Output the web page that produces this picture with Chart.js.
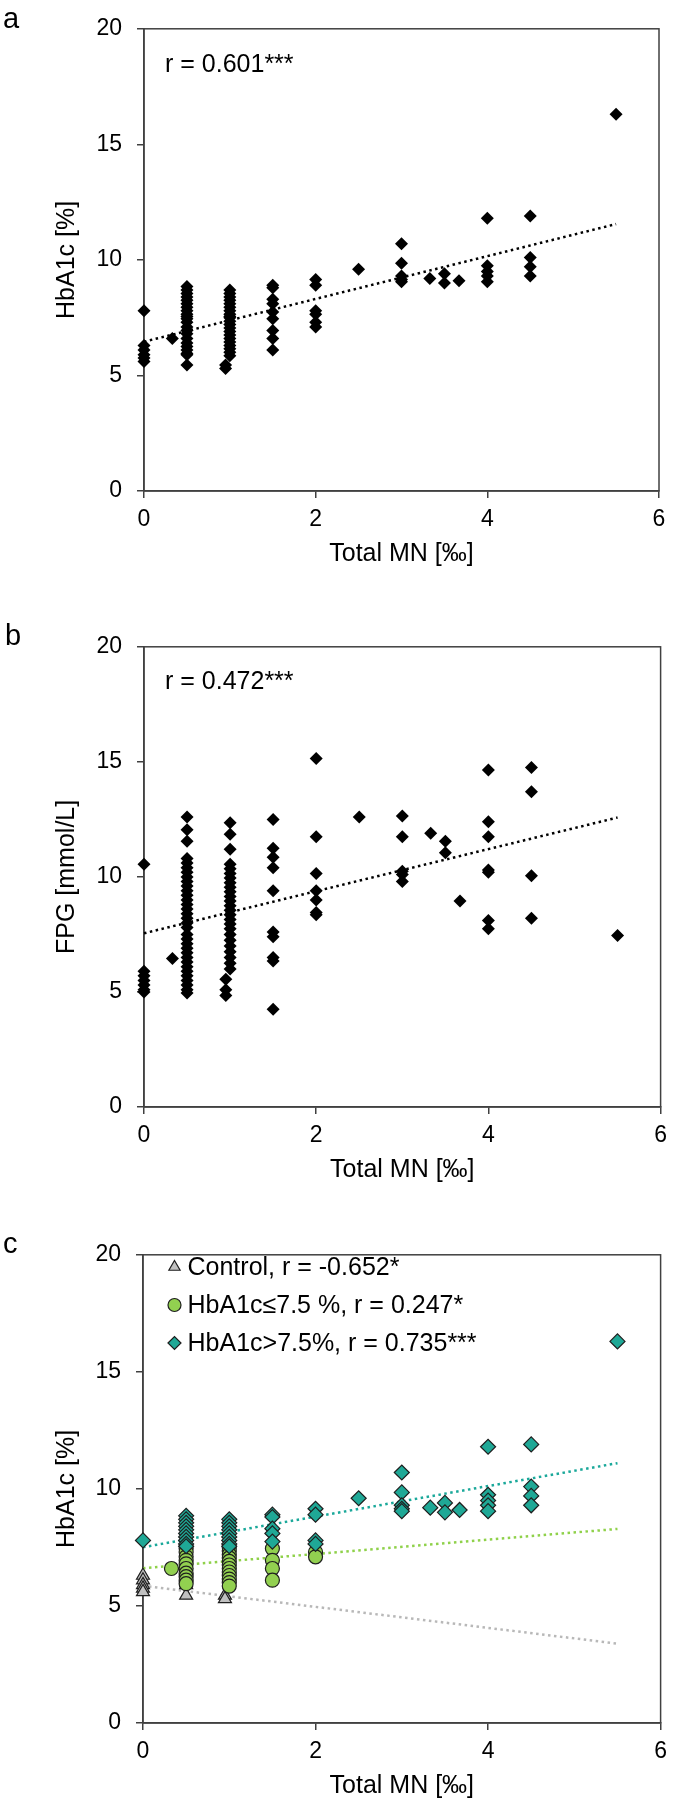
<!DOCTYPE html>
<html>
<head>
<meta charset="utf-8">
<script src="https://cdn.jsdelivr.net/npm/chart.js@4.4.1/dist/chart.umd.min.js"></script>
<style>
  body { margin: 0; background: #fff; }
  .panel { position: absolute; left: 0; width: 675px; }
</style>
</head>
<body>
<div class="panel" style="top:0"><canvas id="chartA" width="675" height="618"></canvas></div>
<div class="panel" style="top:618px"><canvas id="chartB" width="675" height="608"></canvas></div>
<div class="panel" style="top:1226px"><canvas id="chartC" width="675" height="581"></canvas></div>
<script>
/* ===========================================
   Total MN vs HbA1c / FPG scatter panels
   =========================================== */

// ========= Data =========
const mnTicks = [0, 2, 4, 6];
const valueTicks = [0, 5, 10, 15, 20];

// [total MN ‰, HbA1c %] grouped as in panel c
const hbaControl = [[0, 6.3], [0, 6.1], [0, 5.9], [0, 5.75], [0, 5.6], [0.5, 5.9], [0.5, 5.45], [0.95, 5.45], [0.95, 5.3]];
const hbaLow = [[0.33, 6.6], [0.5, 7.45], [0.5, 7.3], [0.5, 7.1], [0.5, 6.95], [0.5, 6.8], [0.5, 6.6], [0.5, 6.4], [0.5, 6.25],
  [0.5, 6.1], [0.5, 5.95], [1, 7.5], [1, 7.35], [1, 7.2], [1, 7.05], [1, 6.9], [1, 6.75], [1, 6.6], [1, 6.45], [1, 6.3],
  [1, 6.15], [1, 6.0], [1, 5.85], [1.5, 7.45], [1.5, 6.95], [1.5, 6.6], [1.5, 6.1], [2, 7.3], [2, 7.1]];
const hbaHigh = [[0, 7.8], [0.5, 8.85], [0.5, 8.7], [0.5, 8.55], [0.5, 8.4], [0.5, 8.25], [0.5, 8.1], [0.5, 7.95], [0.5, 7.8],
  [0.5, 7.65], [0.5, 7.55], [1, 8.7], [1, 8.55], [1, 8.4], [1, 8.25], [1, 8.1], [1, 7.95], [1, 7.8], [1, 7.65], [1, 7.55],
  [1.5, 8.9], [1.5, 8.8], [1.5, 8.3], [1.5, 8.1], [1.5, 7.75], [2, 9.15], [2, 8.9], [2, 7.8], [2, 7.65], [2.5, 9.6],
  [3, 10.7], [3, 9.85], [3, 9.3], [3, 9.15], [3, 9.05], [3.33, 9.2], [3.5, 9.4], [3.5, 9.0], [3.67, 9.1],
  [4, 11.8], [4, 9.75], [4, 9.5], [4, 9.3], [4, 9.05], [4.5, 11.9], [4.5, 10.1], [4.5, 9.7], [4.5, 9.3], [5.5, 16.3]];

// [total MN ‰, FPG mmol/L]
const fpgPoints = [[0, 10.55], [0, 5.9], [0, 5.7], [0, 5.5], [0, 5.3], [0, 5.1], [0, 5.0], [0.33, 6.45],
  [0.5, 12.6], [0.5, 12.05], [0.5, 11.55], [0.5, 10.8], [0.5, 10.6], [0.5, 10.4], [0.5, 10.2], [0.5, 10.0], [0.5, 9.8],
  [0.5, 9.6], [0.5, 9.4], [0.5, 9.2], [0.5, 9.0], [0.5, 8.8], [0.5, 8.6], [0.5, 8.4], [0.5, 8.2], [0.5, 8.0], [0.5, 7.8],
  [0.5, 7.5], [0.5, 7.3], [0.5, 7.1], [0.5, 6.9], [0.5, 6.7], [0.5, 6.5], [0.5, 6.3], [0.5, 6.1], [0.5, 5.9], [0.5, 5.7],
  [0.5, 5.5], [0.5, 5.3], [0.5, 5.1], [0.5, 4.95],
  [1, 12.35], [1, 11.85], [1, 11.2], [1, 10.55], [1, 10.35], [1, 10.15], [1, 9.95], [1, 9.75], [1, 9.55], [1, 9.35],
  [1, 9.15], [1, 8.95], [1, 8.75], [1, 8.55], [1, 8.35], [1, 8.15], [1, 7.95], [1, 7.75], [1, 7.5], [1, 7.25], [1, 7.0],
  [1, 6.75], [1, 6.5], [1, 6.25], [1, 6.0], [0.95, 5.55], [0.95, 5.1], [0.95, 4.85],
  [1.5, 12.5], [1.5, 11.25], [1.5, 10.85], [1.5, 10.4], [1.5, 9.4], [1.5, 7.6], [1.5, 7.4], [1.5, 6.5], [1.5, 6.35], [1.5, 4.25],
  [2, 15.15], [2, 11.75], [2, 10.15], [2, 9.4], [2, 9.0], [2, 8.45], [2, 8.35], [2.5, 12.6],
  [3, 12.65], [3, 11.75], [3, 10.25], [3, 10.1], [3, 9.8], [3.33, 11.9], [3.5, 11.55], [3.5, 11.05], [3.67, 8.95],
  [4, 14.65], [4, 12.4], [4, 11.75], [4, 10.3], [4, 10.2], [4, 8.1], [4, 7.75],
  [4.5, 14.75], [4.5, 13.7], [4.5, 10.05], [4.5, 8.2], [5.5, 7.45]];

// linear trend line end points [x, y]
const hbaTrend = [[0, 6.46], [5.5, 11.55]];
const fpgTrend = [[0, 7.55], [5.5, 12.58]];
const controlTrend = [[0, 5.86], [5.5, 3.39]];
const lowTrend = [[0, 6.61], [5.5, 8.29]];
const highTrend = [[0, 7.51], [5.5, 11.1]];

const legendLabels = ['Control, r = -0.652*', 'HbA1c≤7.5 %, r = 0.247*', 'HbA1c>7.5%, r = 0.735***'];

// ========= Style =========
Chart.defaults.font.family = "'Liberation Sans', Arial, sans-serif";
Chart.defaults.color = '#000';

const colors = {
  axis: '#404040',
  black: '#000',
  gray: '#c0c0c0',
  grayLine: '#b8b8b8',
  green: '#92d050',
  greenLine: '#8fd14a',
  teal: '#1fa896',
  tealLine: '#1aa89a',
  outline: '#1e1e1e'
};

const toXY = (pairs) => pairs.map(p => ({ x: p[0], y: p[1] }));

// box round the plot area (top + right sides too)
const framePlugin = {
  id: 'frame',
  beforeDatasetsDraw(chart) {
    const { ctx, chartArea: a } = chart;
    ctx.save();
    ctx.strokeStyle = colors.axis;
    ctx.lineWidth = 1.5;
    ctx.strokeRect(a.left, a.top, a.right - a.left, a.bottom - a.top);
    ctx.restore();
  }
};

// panel letter + correlation note
const panelTextPlugin = {
  id: 'panelText',
  afterDraw(chart, args, opts) {
    const { ctx } = chart;
    ctx.save();
    ctx.fillStyle = '#000';
    ctx.textBaseline = 'alphabetic';
    ctx.font = "29px 'Liberation Sans', Arial, sans-serif";
    ctx.fillText(opts.letter, opts.letterX, opts.letterY);
    if (opts.note) {
      ctx.font = "25px 'Liberation Sans', Arial, sans-serif";
      ctx.fillText(opts.note, opts.noteX, opts.noteY);
    }
    ctx.restore();
  }
};

// legend inside the plot of panel c
const innerLegendPlugin = {
  id: 'innerLegend',
  afterDraw(chart, args, opts) {
    if (!opts.display) return;
    const { ctx } = chart;
    const items = chart.data.datasets.filter(d => d.legendIndex !== undefined)
      .sort((a, b) => a.legendIndex - b.legendIndex);
    ctx.save();
    items.forEach((d, i) => {
      const cy = opts.y + i * opts.rowGap;
      ctx.fillStyle = d.backgroundColor;
      ctx.strokeStyle = d.borderColor;
      ctx.lineWidth = d.borderWidth;
      Chart.helpers.drawPoint(ctx, { pointStyle: d.pointStyle, radius: opts.markerRadius, rotation: 0, borderWidth: d.borderWidth },
        opts.x, cy);
      ctx.fillStyle = '#000';
      ctx.font = "25px 'Liberation Sans', Arial, sans-serif";
      ctx.textBaseline = 'alphabetic';
      ctx.fillText(legendLabels[d.legendIndex], opts.x + 13, cy + 8);
    });
    ctx.restore();
  }
};

const trendLine = (pairs, color) => ({
  data: toXY(pairs),
  showLine: true,
  pointRadius: 0,
  borderColor: color,
  borderWidth: 2.5,
  borderDash: [2.5, 3.5],
  order: 5
});

function makePanel(id, cfg) {
  const canvas = document.getElementById(id);
  const X_H = 80;
  return new Chart(canvas, {
    type: 'scatter',
    data: { datasets: cfg.datasets },
    options: {
      responsive: false,
      animation: false,
      events: [],
      layout: {
        autoPadding: false,
        padding: { top: cfg.plot.top, left: 0, right: canvas.width - cfg.plot.right, bottom: canvas.height - cfg.plot.bottom - X_H }
      },
      elements: { point: { hoverRadius: 0 } },
      datasets: { scatter: { clip: false } },
      plugins: {
        legend: { display: false },
        tooltip: { enabled: false },
        panelText: cfg.text,
        innerLegend: cfg.legend || { display: false }
      },
      scales: {
        x: {
          type: 'linear',
          min: 0,
          max: 6,
          afterBuildTicks: (s) => { s.ticks = mnTicks.map(v => ({ value: v })); },
          afterFit: (s) => { s.height = X_H; },
          border: { color: colors.axis, width: 1.5 },
          grid: { drawOnChartArea: false, drawTicks: true, tickLength: 7, color: colors.axis, lineWidth: 1.5 },
          ticks: { font: { size: 23 }, padding: 8, color: '#000' },
          title: { display: true, text: 'Total MN [‰]', font: { size: 25 }, padding: { top: 0, bottom: 2 }, color: '#000' }
        },
        y: {
          type: 'linear',
          min: 0,
          max: 20,
          afterBuildTicks: (s) => { s.ticks = valueTicks.map(v => ({ value: v })); },
          afterFit: (s) => { s.width = cfg.plot.left; },
          border: { color: colors.axis, width: 1.5 },
          grid: { drawOnChartArea: false, drawTicks: true, tickLength: 7, color: colors.axis, lineWidth: 1.5 },
          ticks: { font: { size: 23 }, padding: 15, color: '#000' },
          title: { display: true, text: cfg.yTitle, font: { size: 25 }, padding: { top: 52, bottom: 0 }, color: '#000' }
        }
      }
    },
    plugins: [framePlugin, panelTextPlugin, innerLegendPlugin]
  });
}

const blackDiamonds = (pairs) => ({
  data: toXY(pairs),
  pointStyle: 'rectRot',
  pointRadius: 6.5,
  backgroundColor: colors.black,
  borderWidth: 0,
  order: 1
});

// ========= Panel a: HbA1c =========
makePanel('chartA', {
  plot: { top: 13, bottom: 491, left: 144, right: 659 },
  yTitle: 'HbA1c [%]',
  text: { letter: 'a', letterX: 3, letterY: 28, note: 'r = 0.601***', noteX: 165, noteY: 72 },
  datasets: [
    blackDiamonds(hbaControl.concat(hbaLow, hbaHigh)),
    trendLine(hbaTrend, colors.black)
  ]
});

// ========= Panel b: FPG =========
makePanel('chartB', {
  plot: { top: 13, bottom: 489, left: 144, right: 661 },
  yTitle: 'FPG [mmol/L]',
  text: { letter: 'b', letterX: 5, letterY: 27, note: 'r = 0.472***', noteX: 165, noteY: 71 },
  datasets: [
    blackDiamonds(fpgPoints),
    trendLine(fpgTrend, colors.black)
  ]
});

// ========= Panel c: HbA1c by group =========
makePanel('chartC', {
  plot: { top: 13, bottom: 497, left: 143, right: 665 },
  yTitle: 'HbA1c [%]',
  text: { letter: 'c', letterX: 3, letterY: 27 },
  legend: { display: true, x: 174.5, y: 41, rowGap: 38, markerRadius: 6.5 },
  datasets: [
    {
      data: toXY(hbaControl), legendIndex: 0,
      pointStyle: 'triangle', pointRadius: 7.5,
      backgroundColor: colors.gray, borderColor: colors.outline, borderWidth: 1.2, order: 3
    },
    {
      data: toXY(hbaLow), legendIndex: 1,
      pointStyle: 'circle', pointRadius: 7,
      backgroundColor: colors.green, borderColor: colors.outline, borderWidth: 1.2, order: 2
    },
    {
      data: toXY(hbaHigh), legendIndex: 2,
      pointStyle: 'rectRot', pointRadius: 7.5,
      backgroundColor: colors.teal, borderColor: colors.outline, borderWidth: 1.2, order: 1
    },
    trendLine(controlTrend, colors.grayLine),
    trendLine(lowTrend, colors.greenLine),
    trendLine(highTrend, colors.tealLine)
  ]
});
</script>
</body>
</html>
